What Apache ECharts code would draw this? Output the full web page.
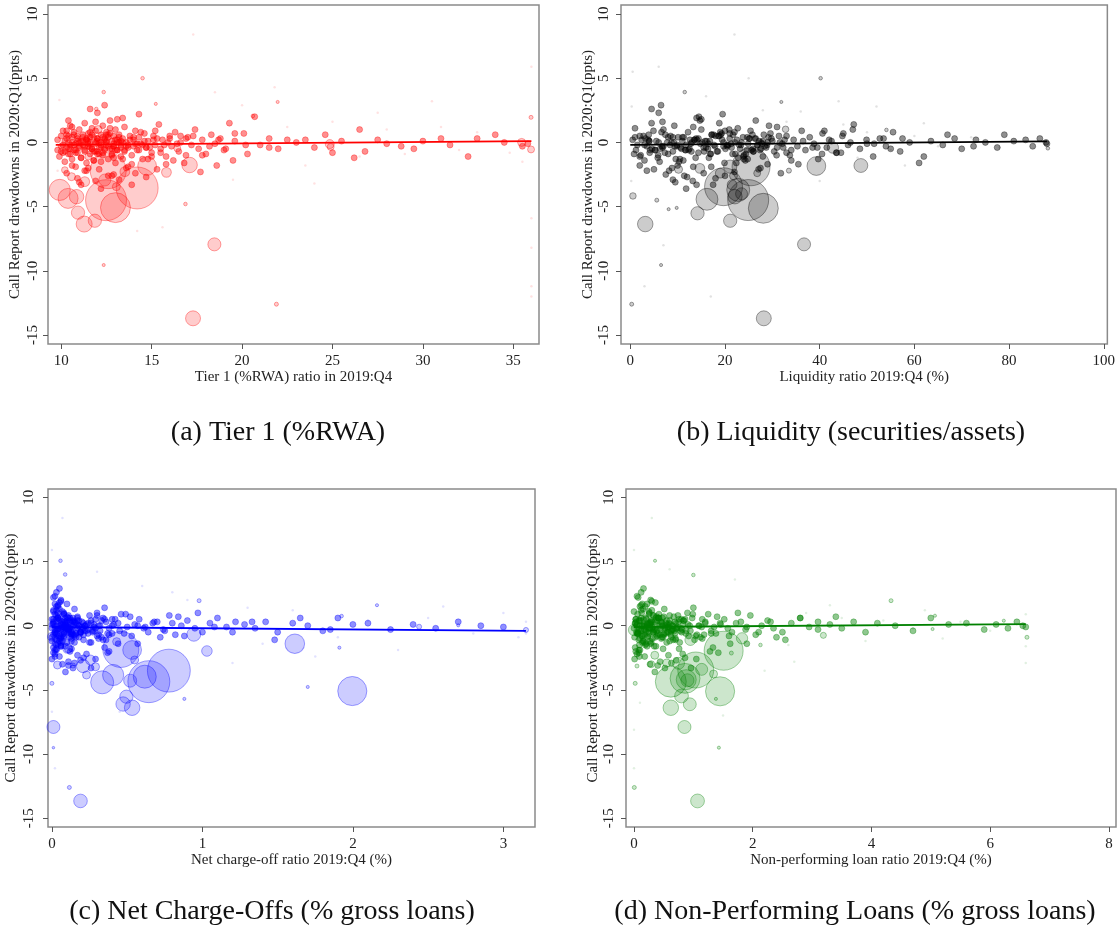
<!DOCTYPE html>
<html>
<head>
<meta charset="utf-8">
<script src="https://cdn.jsdelivr.net/npm/echarts@6/dist/echarts.min.js"></script>
<style>
html, body { margin: 0; padding: 0; background: #fff; }
#chart { width: 1118px; height: 931px; }
</style>
</head>
<body>
<div id="chart"></div>
<script>
// drawdowns (ppts) of the small banks, same banks in every panel
var cloudY = [
  0.2, -0.6, -1.1, 0.5, -0.3, -0.8, 0.9, 0.1, -1.5, -0.4,
  0.6, -0.9, 0.0, 1.3, -0.2, -1.3, 0.4, -0.6, 0.8, -0.1,
  -1.9, 0.3, -0.8, 1.0, -0.4, 0.1, -1.2, 0.6, -0.2, -0.7,
  1.5, 0.2, -1.6, -0.3, 0.7, -0.9, 0.0, 1.1, -0.5, 0.4,
  -1.4, -0.1, 0.9, -0.7, 0.3, -2.1, 0.0, 0.6, -0.4, 1.3,
  -1.0, 0.2, -0.6, 0.8, -0.2, -1.3, 0.4, -0.5, 1.7, 0.1,
  -0.9, 0.5, -0.3, 1.0, -1.6, 0.0, -0.6, 0.6, -0.2, -1.1,
  0.3, -0.7, 1.2, 0.0, -0.4, 0.5, -1.0, 0.2, -0.3, 0.9,
  -0.6, 0.4, -0.1, -1.3, 0.7, -0.4, 0.1, -0.8, 0.5, -0.2,
  1.4, -0.5, 0.2, -1.1, 0.3, -0.3, 0.8, -0.7, 0.0, -1.6,
  0.4, -0.2, 1.0, -0.5, 0.2, -0.9, 0.6, -0.1, 0.3, -0.6,
  1.5, 0.1, 2.0, -0.2, 0.3, -0.5, 0.2, 0.0, -0.4, 0.6,
  0.1, -1.2, -0.7, 0.2, -0.3, 0.1, -0.2, 0.3, 0.0, -0.1,
  -2.4, -2.8, -2.2, -3.0, -2.6, -2.9, -2.0, -2.4, -2.7, -3.3,
  -3.3, -3.6, -2.1, -1.4, -2.3, -1.8, -1.4, -0.9, -1.0, 2.3,
  2.6, 1.9, -1.8, 2.2, -2.5, 1.7, -1.7, 2.9, -3.1, 0.7,
  // core of the cloud
  -0.2, 0.3, -0.5, 0.0, -0.8, 0.5, -0.3, 0.1, -0.6, 0.2,
  -0.1, -0.4, 0.6, -0.7, 0.0, 0.3, -0.9, -0.2, 0.4, -0.5,
  0.1, -0.3, 0.7, -1.0, -0.1, 0.2, -0.6, 0.4, -0.4, 0.0,
  -0.7, 0.5, -0.2, -1.2, 0.3, -0.5, 0.1, -0.8, 0.6, -0.3,
  0.0, -0.6, 0.2, -0.1, 0.8, -0.4, -1.1, 0.3, -0.2, 0.5,
  -0.9, 0.1, -0.3, 0.4, -0.7, 0.0, 0.6, -0.5, 0.2, -1.3,
  -0.2, 0.4, -0.6, 0.1, -0.4, 0.9, -0.8, 0.0, -0.1, 0.3,
  0.5, -1.0, -0.3, 0.2, -0.5, 0.7, -0.2, -0.7, 0.1, -0.4,
  1.1, -0.6, 0.0, -1.4, 0.3, -0.3, 0.6, -0.9, -0.1, 0.2,
  -0.5, 0.4, -1.2, 0.1, -0.2, 0.8, -0.6, 0.0, -1.7, 0.5,
  -2.2, 1.6, -1.5, 1.2, -1.9, 0.9, -2.6, 1.8, -1.3, -2.0,
  -0.4, 0.2, -0.8, 1.0, -0.1, -0.5, 0.3, -1.1, 0.6, -0.3
];

// Tier 1 (%RWA) 2019:Q4 of the same banks
var tier1X = [
  9.8, 9.8, 9.9, 10.0, 10.0, 10.1, 10.1, 10.2, 10.2, 10.3,
  10.3, 10.4, 10.4, 10.5, 10.5, 10.6, 10.6, 10.7, 10.7, 10.8,
  10.8, 10.9, 10.9, 11.0, 11.0, 11.1, 11.1, 11.2, 11.2, 11.3,
  11.3, 11.4, 11.4, 11.5, 11.5, 11.6, 11.6, 11.7, 11.7, 11.8,
  11.8, 11.9, 11.9, 12.0, 12.0, 12.1, 12.1, 12.2, 12.2, 12.3,
  12.3, 12.4, 12.4, 12.5, 12.5, 12.6, 12.6, 12.7, 12.7, 12.8,
  12.8, 12.9, 12.9, 13.0, 13.0, 13.1, 13.1, 13.2, 13.3, 13.3,
  13.4, 13.5, 13.5, 13.6, 13.7, 13.8, 13.9, 14.0, 14.0, 14.1,
  14.2, 14.3, 14.4, 14.5, 14.6, 14.7, 14.8, 15.0, 15.1, 15.2,
  15.4, 15.5, 15.6, 15.8, 16.0, 16.1, 16.3, 16.5, 16.6, 16.8,
  17.0, 17.2, 17.4, 17.6, 17.8, 18.0, 18.3, 18.5, 18.8, 19.0,
  19.3, 19.6, 20.7, 21.0, 21.5, 22.0, 22.5, 23.0, 24.0, 24.6,
  25.5, 26.2, 26.8, 27.5, 28.8, 30.0, 31.5, 33.0, 34.5, 35.8,
  10.3, 10.9, 11.4, 11.9, 12.6, 13.2, 13.6, 14.1, 14.7, 13.9,
  11.1, 12.2, 15.3, 16.2, 17.7, 18.6, 19.5, 20.3, 16.9, 12.0,
  11.6, 13.4, 10.6, 14.3, 12.9, 10.4, 15.8, 12.4, 11.0, 20.1,
  10.1, 10.3, 10.5, 10.6, 10.8, 10.9, 11.0, 11.2, 11.3, 11.4,
  11.5, 11.6, 11.7, 11.8, 11.9, 12.0, 12.1, 12.2, 12.3, 12.4,
  12.5, 12.6, 12.7, 12.8, 12.9, 13.0, 13.1, 13.2, 13.3, 13.4,
  10.2, 10.4, 10.7, 11.1, 11.4, 11.7, 12.0, 12.3, 12.6, 12.9,
  13.2, 13.5, 13.8, 14.1, 14.4, 14.7, 15.0, 15.3, 15.7, 16.0,
  10.5, 10.9, 11.3, 11.6, 11.9, 12.2, 12.5, 12.8, 13.1, 13.4,
  13.7, 14.0, 14.3, 14.6, 14.9, 15.2, 15.5, 15.9, 16.4, 16.9,
  17.3, 17.8, 18.2, 18.7, 19.1, 19.6, 20.2, 10.0, 11.5, 12.1,
  12.7, 13.0, 11.0, 11.8, 12.4, 13.6, 10.7, 12.0, 14.2, 15.1,
  10.4, 11.2, 12.9, 13.3, 14.5, 11.6, 10.8, 12.5, 13.9, 16.6,
  11.3, 11.9, 12.2, 10.6, 13.7, 10.3, 12.8, 13.1, 14.8, 11.5,
  21.5, 23.5, 25.0, 26.5, 28.0, 29.5, 31.0, 32.5, 34.0, 35.5
];

// liquidity ratio 2019:Q4 (%)
var liqX = [
  0.5, 1.2, 2.0, 2.8, 3.5, 4.1, 4.9, 5.5, 6.2, 6.8,
  7.4, 8.0, 8.7, 9.3, 9.9, 10.5, 11.0, 11.6, 12.2, 12.8,
  13.3, 13.9, 14.4, 15.0, 15.5, 16.1, 16.6, 17.2, 17.7, 18.3,
  18.8, 19.4, 19.9, 20.5, 21.0, 21.6, 22.1, 22.7, 23.2, 23.8,
  24.3, 24.9, 25.4, 26.0, 26.5, 27.1, 27.6, 28.2, 28.7, 29.3,
  2.2, 3.8, 5.2, 6.6, 8.4, 9.6, 11.3, 12.5, 14.7, 15.8,
  17.0, 18.6, 19.7, 20.9, 22.4, 23.5, 24.6, 25.8, 26.9, 28.0,
  29.8, 30.4, 31.0, 31.6, 32.3, 33.0, 33.7, 34.5, 35.3, 36.2,
  37.0, 37.9, 38.8, 39.7, 40.6, 41.5, 42.5, 43.6, 44.8, 46.0,
  47.2, 48.5, 49.9, 51.3, 52.7, 54.0, 55.5, 57.0, 59.0, 61.0,
  1.0, 3.0, 7.0, 10.8, 13.6, 16.9, 19.1, 21.3, 25.1, 27.4,
  4.5, 63.5, 14.5, 66.0, 68.5, 70.0, 73.0, 75.0, 77.5, 79.0,
  81.0, 5.8, 9.0, 83.5, 85.0, 4.0, 11.8, 86.5, 87.8, 88.0,
  15.5, 18.0, 8.2, 13.2, 20.0, 9.0, 27.5, 31.8, 12.0, 14.0,
  17.5, 11.8, 5.0, 3.0, 22.0, 2.0, 34.0, 40.5, 24.0, 6.0,
  4.5, 14.0, 10.0, 19.5, 7.5, 26.5, 29.0, 6.5, 9.5, 45.0,
  1.5, 3.2, 4.6, 6.0, 7.3, 8.5, 9.8, 11.0, 12.3, 13.5,
  14.8, 16.0, 17.2, 18.5, 19.7, 21.0, 22.2, 23.4, 24.7, 25.9,
  27.2, 28.4, 29.6, 30.9, 32.1, 2.4, 5.3, 8.0, 10.6, 13.0,
  15.6, 18.0, 20.4, 22.8, 25.2, 27.6, 30.0, 33.0, 3.9, 6.7,
  9.2, 11.7, 14.1, 16.5, 19.0, 21.4, 23.9, 26.3, 28.9, 31.4,
  0.8, 4.0, 7.0, 10.1, 12.9, 15.2, 17.6, 20.1, 22.5, 24.0,
  26.8, 29.2, 34.0, 36.5, 38.5, 41.0, 43.5, 46.5, 50.0, 53.5,
  2.0, 5.9, 9.4, 12.6, 16.4, 19.3, 23.0, 26.0, 28.0, 31.0,
  1.0, 4.2, 7.8, 11.2, 14.4, 17.9, 21.7, 24.4, 27.8, 32.6,
  6.3, 9.0, 13.8, 16.8, 20.7, 22.0, 25.6, 29.0, 35.5, 18.8,
  3.5, 6.8, 10.3, 13.3, 17.1, 20.0, 11.4, 15.0, 24.8, 8.8,
  39.5, 42.0, 44.5, 47.0, 51.5, 55.0, 57.5, 62.0, 67.0, 72.5
];

// net charge-off ratio 2019:Q4 (%)
var ncoX = [
  0.01, 0.02, 0.03, 0.01, 0.04, 0.05, 0.02, 0.06, 0.03, 0.07,
  0.04, 0.08, 0.02, 0.05, 0.09, 0.06, 0.10, 0.03, 0.11, 0.07,
  0.02, 0.12, 0.08, 0.04, 0.13, 0.09, 0.05, 0.14, 0.10, 0.15,
  0.03, 0.16, 0.06, 0.11, 0.17, 0.12, 0.18, 0.07, 0.19, 0.13,
  0.04, 0.20, 0.08, 0.21, 0.14, 0.01, 0.22, 0.09, 0.23, 0.15,
  0.05, 0.24, 0.16, 0.25, 0.10, 0.26, 0.17, 0.27, 0.02, 0.28,
  0.18, 0.29, 0.11, 0.30, 0.06, 0.32, 0.19, 0.34, 0.12, 0.36,
  0.20, 0.38, 0.03, 0.40, 0.22, 0.42, 0.13, 0.44, 0.24, 0.46,
  0.48, 0.26, 0.50, 0.15, 0.52, 0.28, 0.55, 0.30, 0.58, 0.61,
  0.35, 0.64, 0.67, 0.21, 0.70, 0.74, 0.78, 0.82, 0.86, 0.09,
  0.90, 0.95, 0.08, 1.00, 1.05, 0.33, 1.10, 1.16, 1.22, 0.40,
  0.04, 1.28, 0.06, 1.35, 1.42, 1.50, 1.60, 1.70, 1.80, 1.90,
  2.00, 0.13, 0.31, 2.10, 2.25, 2.40, 2.55, 2.70, 2.85, 3.00,
  0.05, 0.11, 0.23, 0.07, 0.29, 0.15, 0.38, 0.02, 0.19, 0.14,
  0.26, 0.09, 0.37, 0.44, 0.17, 0.03, 0.57, 0.72, 0.31, 0.02,
  0.03, 0.06, 0.13, 0.01, 0.21, 0.10, 0.35, 0.05, 0.11, 0.84,
  0.00, 0.01, 0.02, 0.03, 0.04, 0.05, 0.06, 0.07, 0.08, 0.09,
  0.10, 0.11, 0.12, 0.13, 0.14, 0.15, 0.16, 0.17, 0.18, 0.19,
  0.00, 0.02, 0.04, 0.06, 0.08, 0.10, 0.12, 0.14, 0.16, 0.18,
  0.01, 0.03, 0.05, 0.07, 0.09, 0.11, 0.13, 0.15, 0.17, 0.20,
  0.22, 0.24, 0.26, 0.28, 0.30, 0.32, 0.34, 0.36, 0.38, 0.40,
  0.00, 0.01, 0.03, 0.05, 0.07, 0.09, 0.11, 0.13, 0.21, 0.25,
  0.29, 0.33, 0.37, 0.41, 0.45, 0.49, 0.53, 0.57, 0.62, 0.68,
  0.00, 0.02, 0.04, 0.06, 0.08, 0.10, 0.12, 0.14, 0.23, 0.27,
  0.01, 0.03, 0.05, 0.02, 0.07, 0.09, 0.04, 0.06, 0.11, 0.15,
  0.19, 0.08, 0.00, 0.17, 0.21, 0.03, 0.13, 0.31, 0.01, 0.35,
  0.02, 0.04, 0.06, 0.01, 0.03, 0.08, 0.00, 0.05, 0.10, 0.12,
  0.75, 0.80, 0.88, 0.97, 1.08, 1.20, 1.33, 1.48, 1.65, 1.85
];

// non-performing loan ratio 2019:Q4 (%)
var nplX = [
  0.02, 0.05, 0.08, 0.03, 0.11, 0.14, 0.06, 0.17, 0.09, 0.20,
  0.12, 0.23, 0.04, 0.15, 0.26, 0.18, 0.29, 0.07, 0.32, 0.21,
  0.10, 0.35, 0.24, 0.13, 0.38, 0.27, 0.16, 0.41, 0.30, 0.44,
  0.19, 0.47, 0.22, 0.33, 0.50, 0.36, 0.53, 0.25, 0.56, 0.39,
  0.28, 0.59, 0.42, 0.62, 0.45, 0.08, 0.65, 0.48, 0.68, 0.51,
  0.31, 0.71, 0.54, 0.74, 0.57, 0.77, 0.60, 0.80, 0.14, 0.83,
  0.63, 0.86, 0.66, 0.90, 0.34, 0.94, 0.69, 0.98, 0.72, 1.02,
  0.75, 1.06, 0.12, 1.10, 0.78, 1.15, 0.46, 1.20, 0.81, 1.25,
  1.30, 0.84, 1.35, 0.55, 1.40, 0.88, 1.46, 0.92, 1.52, 1.58,
  1.00, 1.65, 1.72, 0.70, 1.80, 1.88, 1.96, 2.05, 2.15, 0.37,
  2.25, 2.35, 0.26, 2.50, 2.65, 1.12, 2.80, 2.95, 3.10, 1.38,
  0.10, 3.30, 0.28, 3.50, 3.70, 3.90, 4.10, 4.40, 4.70, 5.00,
  5.30, 0.60, 1.18, 5.60, 5.90, 6.10, 6.30, 6.45, 6.55, 6.60,
  0.18, 0.44, 0.82, 0.27, 1.05, 0.63, 1.28, 0.09, 0.71, 0.52,
  0.96, 0.35, 1.42, 1.62, 0.58, 0.76, 1.90, 2.40, 1.15, 0.05,
  0.12, 0.30, 0.49, 0.07, 0.86, 0.22, 1.33, 0.16, 0.40, 3.40,
  0.00, 0.04, 0.07, 0.10, 0.13, 0.16, 0.19, 0.22, 0.25, 0.28,
  0.31, 0.34, 0.37, 0.40, 0.43, 0.46, 0.49, 0.52, 0.55, 0.58,
  0.61, 0.64, 0.67, 0.70, 0.73, 0.02, 0.06, 0.09, 0.12, 0.15,
  0.18, 0.21, 0.24, 0.27, 0.30, 0.33, 0.36, 0.39, 0.42, 0.45,
  0.48, 0.51, 0.54, 0.57, 0.60, 0.63, 0.66, 0.69, 0.72, 0.76,
  0.01, 0.05, 0.08, 0.11, 0.14, 0.17, 0.20, 0.23, 0.26, 0.29,
  0.79, 0.83, 0.87, 0.91, 0.95, 0.99, 1.04, 1.09, 1.14, 1.20,
  0.03, 0.10, 0.17, 0.24, 0.32, 0.38, 0.44, 0.50, 0.56, 0.62,
  0.00, 0.06, 0.13, 0.20, 0.28, 0.35, 0.41, 0.47, 0.53, 0.59,
  0.04, 0.09, 0.15, 0.22, 0.26, 0.33, 0.40, 0.65, 0.02, 0.80,
  0.05, 0.12, 0.19, 0.30, 0.08, 0.25, 0.01, 0.36, 0.14, 0.03,
  1.30, 1.45, 1.60, 1.75, 1.90, 2.10, 2.30, 2.55, 2.80, 3.10
];

// larger banks: [x, drawdown, weight]
var tier1Big = [
  [14.2, -3.55, 110], [12.48, -4.5, 105], [13.0, -5.08, 56], [12.6, -2.2, 81],
  [14.75, -1.84, 22], [9.92, -3.7, 28], [10.38, -4.36, 25], [10.85, -4.23, 13],
  [10.93, -5.47, 11], [11.27, -6.36, 16], [11.86, -6.1, 11], [17.1, -1.76, 15],
  [15.82, -2.33, 6], [10.57, -2.67, 4], [11.3, -3.06, 6], [10.2, -2.15, 2.7],
  [12.41, -2.93, 9], [13.52, -2.28, 6], [18.47, -7.94, 10.6], [17.29, -13.7, 14],
  [21.9, -12.6, 1], [12.35, -9.55, 0.6], [16.87, -4.8, 0.8], [35.46, 0.0, 4],
  [35.98, -0.55, 3], [35.98, 1.95, 1], [24.85, -0.13, 5], [14.5, 5.0, 0.8],
  [12.35, 3.92, 0.8], [21.97, 3.15, 0.6], [20.6, 2.06, 0.8], [15.23, 3.0, 0.6],
  [11.94, 2.6, 0.8], [11.5, -1.1, 3], [12.04, 1.0, 4], [13.05, -3.45, 4],
  [16.42, -0.46, 3], [24.9, -0.35, 3]
];
var liqBig = [
  [24.9, -4.49, 105], [28.1, -5.13, 56], [19.7, -3.45, 90], [25.5, -1.9, 90],
  [16.2, -4.43, 30], [22.8, -3.7, 33], [22.1, -4.23, 13], [21.1, -1.89, 11],
  [14.2, -5.52, 11], [21.1, -6.1, 11], [3.16, -6.36, 15], [39.3, -1.84, 22],
  [48.7, -1.8, 12], [42.8, -0.41, 8], [0.56, -4.17, 2.7], [36.7, -7.94, 10.6],
  [28.2, -13.7, 14], [10.2, -2.1, 4], [14.7, -2.02, 6], [19.0, -2.4, 6],
  [26.8, -2.4, 3], [32.8, 1.02, 2.7], [33.5, -2.2, 1.6], [5.6, -4.5, 1],
  [0.3, -12.6, 1], [6.5, -9.55, 0.6], [40.2, 5.0, 0.8], [11.5, 3.92, 0.8],
  [31.9, 3.15, 0.6], [88.2, -0.46, 0.8], [54.1, 0.97, 0.8], [21.5, -3.3, 6],
  [23.5, -4.0, 9], [21.8, -2.6, 4], [8.1, -5.2, 0.6], [9.8, -5.1, 0.6]
];
var ncoBig = [
  [0.777, -3.5, 115], [0.644, -4.36, 110], [0.617, -3.97, 33], [0.458, -1.85, 81],
  [0.533, -1.89, 22], [0.334, -4.41, 33], [0.407, -3.84, 28], [0.52, -4.28, 10.6],
  [0.495, -5.53, 11], [0.473, -6.1, 13], [0.533, -6.39, 15], [0.207, -3.14, 11],
  [0.943, -0.67, 12], [1.03, -1.97, 7], [0.256, -2.67, 6], [0.23, -3.84, 4],
  [0.43, -1.24, 4], [0.55, -2.67, 4], [0.104, -1.76, 6], [0.037, -3.06, 4],
  [0.0, -4.49, 1], [1.614, -1.4, 24], [1.996, -5.09, 53], [0.01, -7.89, 10.6],
  [0.19, -13.65, 11.6], [0.116, -12.6, 1], [0.01, -9.5, 0.4], [2.44, -0.08, 1.6],
  [2.7, 0.03, 0.6], [3.15, -0.33, 1.6], [2.16, 1.6, 0.6], [1.925, 0.75, 0.8],
  [1.91, -1.71, 0.6], [1.70, -4.77, 0.6], [0.978, 1.95, 1], [0.057, 5.06, 0.8],
  [0.088, 3.99, 0.8], [0.88, -5.7, 0.6], [0.0, -0.86, 5], [0.11, -1.8, 4],
  [0.29, -3.2, 4], [0.14, -3.1, 1.6]
];
var nplBig = [
  [1.51, -1.95, 95], [0.62, -4.36, 60], [1.45, -5.11, 53], [1.04, -3.45, 81],
  [0.86, -4.1, 56], [0.88, -4.2, 25], [0.9, -4.25, 10.6], [0.95, -1.11, 7.6],
  [0.62, -6.39, 15], [0.94, -6.12, 10.4], [0.8, -5.47, 12], [0.85, -7.89, 10.6],
  [1.07, -13.65, 12], [0.005, -12.6, 1], [0.0, -0.33, 8], [1.82, -0.98, 8],
  [3.19, -0.75, 2.3], [4.33, 1.95, 1], [6.62, -0.9, 1], [5.03, -0.26, 0.6],
  [0.354, 5.06, 0.6], [1.0, 3.95, 0.8], [1.43, -9.5, 0.6], [1.38, -5.7, 0.6],
  [0.29, -3.0, 3], [0.05, -3.14, 1], [0.02, -4.49, 1], [1.64, -2.13, 1],
  [1.34, -3.76, 4], [2.13, -1.5, 0.8], [5.07, 0.78, 0.6], [6.23, 0.39, 0.6],
  [0.75, -2.93, 9], [1.14, -3.4, 9], [0.55, -2.9, 4], [0.35, -2.3, 4]
];

// very small banks (faint marks)
var tier1Faint = [
  [17.3, 8.4], [36, 5.9], [36, -5.9], [36, -8.2], [36, -11.2], [36, -12.0], [9.9, 3.3],
  [9.8, -2.2], [14.2, -6.9], [15.6, -6.6], [22.5, 1.2], [25, 1.6], [28, 1.0], [31, 1.2],
  [33, 0.8], [30.5, 3.2], [20, 2.9], [26.5, -1.1], [29, -0.9], [32, -0.6], [23.5, -1.8],
  [18.5, 3.9], [21.8, 4.3], [34.8, -0.8], [27.5, 2.3], [19.5, -2.9], [35.5, -1.5], [24, -3.2]
];
var liqFaint = [
  [22, 8.4], [0.2, -3.0], [0.3, 2.8], [0.5, 5.5], [3, -11.2], [6, 5.9], [7, -8.0],
  [17, -12.0], [16, 3.6], [28, 2.5], [33, 1.6], [36, 2.4], [45, 1.4], [50, 0.8],
  [55, -0.6], [48, -1.2], [60, 0.5], [65, -0.3], [52, 2.8], [58, -1.8], [72, 0.4],
  [78, -0.4], [40, -3.0], [44, 3.2], [62, 1.5], [25, 5.0]
];
var ncoFaint = [
  [0.07, 8.4], [0.0, 5.9], [0.0, -6.7], [0.02, -11.1], [0.9, 2.0], [1.3, 1.4], [1.6, 1.2],
  [2.1, 0.4], [2.5, 0.6], [2.8, -0.6], [3.1, -0.9], [3.15, 0.3], [3.15, -0.6], [1.9, -0.9],
  [1.4, -1.4], [2.3, -1.9], [1.2, -2.9], [0.6, 3.1], [0.8, 2.6], [0.3, 4.2], [2.6, 1.5],
  [3.0, 1.0], [1.75, -2.4], [0.45, -6.7]
];
var nplFaint = [
  [0.3, 8.4], [0.0, 5.9], [0.0, -8.1], [0.0, -11.1], [0.1, -6.0], [2.9, 1.0], [3.5, 0.6],
  [4.2, 0.4], [4.7, -0.2], [5.5, 0.3], [6.0, -0.4], [6.6, 0.9], [6.6, -2.9], [6.6, -1.6],
  [2.7, -2.8], [3.9, -1.2], [5.2, -1.0], [2.2, -3.5], [1.7, 3.6], [0.6, 4.4], [2.6, -1.5],
  [3.3, 1.6], [4.9, 1.2], [1.5, -7.0]
];

// fitted lines (endpoints)
var tier1Fit = [[9.7, -0.2], [36.0, 0.1]];
var liqFit = [[0.0, -0.2], [88.0, 0.08]];
var ncoFit = [[0.0, -0.1], [3.15, -0.4]];
var nplFit = [[0.0, -0.1], [6.6, 0.12]];

var yTicks = [-15, -10, -5, 0, 5, 10];
var tier1Ticks = [10, 15, 20, 25, 30, 35];
var liqTicks = [0, 20, 40, 60, 80, 100];
var ncoTicks = [0, 1, 2, 3];
var nplTicks = [0, 2, 4, 6, 8];

var yName = 'Call Report drawdowns in 2020:Q1(ppts)';
var captions = [
  '(a) Tier 1 (%RWA)',
  '(b) Liquidity (securities/assets)',
  '(c) Net Charge-Offs (% gross loans)',
  '(d) Non-Performing Loans (% gross loans)'
];

var font = 'Liberation Serif';

var panels = [
  { xs: tier1X, big: tier1Big, faint: tier1Faint, fit: tier1Fit, ticks: tier1Ticks,
    rgb: '255,0,0', line: '#ff0000', xName: 'Tier 1 (%RWA) ratio in 2019:Q4',
    grid: { left: 48, top: 5, width: 491, height: 339 }, xMin: 9.27, xMax: 36.42,
    yMin: -15.7, yMax: 10.7, labMargin: 7, nameGap: 25 },
  { xs: liqX, big: liqBig, faint: liqFaint, fit: liqFit, ticks: liqTicks,
    rgb: '0,0,0', line: '#000000', xName: 'Liquidity ratio 2019:Q4 (%)',
    grid: { left: 621, top: 5, width: 487, height: 339 }, xMin: -1.96, xMax: 100.76,
    yMin: -15.7, yMax: 10.7, labMargin: 9, nameGap: 25 },
  { xs: ncoX, big: ncoBig, faint: ncoFaint, fit: ncoFit, ticks: ncoTicks,
    rgb: '0,0,255', line: '#0000ff', xName: 'Net charge-off ratio 2019:Q4 (%)',
    grid: { left: 48, top: 489, width: 487, height: 338 }, xMin: -0.026, xMax: 3.21,
    yMin: -15.68, yMax: 10.65, labMargin: 11, nameGap: 29 },
  { xs: nplX, big: nplBig, faint: nplFaint, fit: nplFit, ticks: nplTicks,
    rgb: '0,128,0', line: '#008000', xName: 'Non-performing loan ratio 2019:Q4 (%)',
    grid: { left: 626, top: 489, width: 490, height: 338 }, xMin: -0.135, xMax: 8.12,
    yMin: -15.68, yMax: 10.65, labMargin: 9, nameGap: 25 }
];

var grids = [], xAxes = [], yAxes = [], series = [];

panels.forEach(function (p, i) {
  grids.push({
    left: p.grid.left, top: p.grid.top, width: p.grid.width, height: p.grid.height,
    show: true, borderColor: '#8a8a8a', borderWidth: 1.5, backgroundColor: '#fff'
  });
  xAxes.push({
    type: 'value', gridIndex: i, min: p.xMin, max: p.xMax,
    name: p.xName, nameLocation: 'middle', nameGap: 24,
    nameTextStyle: { fontFamily: font, fontSize: 15, color: '#222' },
    axisLine: { show: false, onZero: false },
    axisTick: { show: true, length: 5, customValues: p.ticks, lineStyle: { color: '#555', width: 1 } },
    axisLabel: { customValues: p.ticks, margin: 10, fontFamily: font, fontSize: 15, color: '#222' },
    splitLine: { show: false }
  });
  yAxes.push({
    type: 'value', gridIndex: i, min: p.yMin, max: p.yMax,
    name: yName, nameLocation: 'middle', nameGap: p.nameGap, nameRotate: 90,
    nameTextStyle: { fontFamily: font, fontSize: 15, color: '#222' },
    axisLine: { show: false, onZero: false },
    axisTick: { show: true, length: 5, customValues: yTicks, lineStyle: { color: '#555', width: 1 } },
    axisLabel: { customValues: yTicks, rotate: 90, margin: p.labMargin, fontFamily: font, fontSize: 15, color: '#222' },
    splitLine: { show: false }
  });

  var cloud = p.xs.map(function (x, k) { return [x, cloudY[k]]; });

  series.push({
    type: 'scatter', xAxisIndex: i, yAxisIndex: i, data: p.faint, symbolSize: 2.5,
    itemStyle: { color: 'rgba(' + p.rgb + ',0.15)' }, silent: true, z: 1
  });
  series.push({
    type: 'scatter', xAxisIndex: i, yAxisIndex: i, data: cloud, symbolSize: 6,
    itemStyle: { color: 'rgba(' + p.rgb + ',0.55)', borderColor: 'rgba(' + p.rgb + ',0.7)', borderWidth: 0.6 },
    silent: true, z: 2
  });
  series.push({
    type: 'scatter', xAxisIndex: i, yAxisIndex: i, data: p.big,
    symbolSize: function (d) { return Math.sqrt(d[2]) * 4; },
    itemStyle: { color: 'rgba(' + p.rgb + ',0.25)', borderColor: 'rgba(' + p.rgb + ',0.45)', borderWidth: 1 },
    silent: true, z: 3
  });
  series.push({
    type: 'line', xAxisIndex: i, yAxisIndex: i, data: p.fit, symbol: 'none',
    lineStyle: { color: p.line, width: 1.8 }, silent: true, z: 5
  });
});

var capPos = [[278, 433], [851, 433], [272, 912], [855, 912]];
var graphics = captions.map(function (t, i) {
  return {
    type: 'text', x: capPos[i][0], y: capPos[i][1],
    style: { text: t, fontFamily: font, fontSize: 28, fill: '#111', align: 'center', verticalAlign: 'middle' }
  };
});

var chart = echarts.init(document.getElementById('chart'));
chart.setOption({
  animation: false,
  backgroundColor: '#fff',
  grid: grids,
  xAxis: xAxes,
  yAxis: yAxes,
  series: series,
  graphic: graphics
});
</script>
</body>
</html>
